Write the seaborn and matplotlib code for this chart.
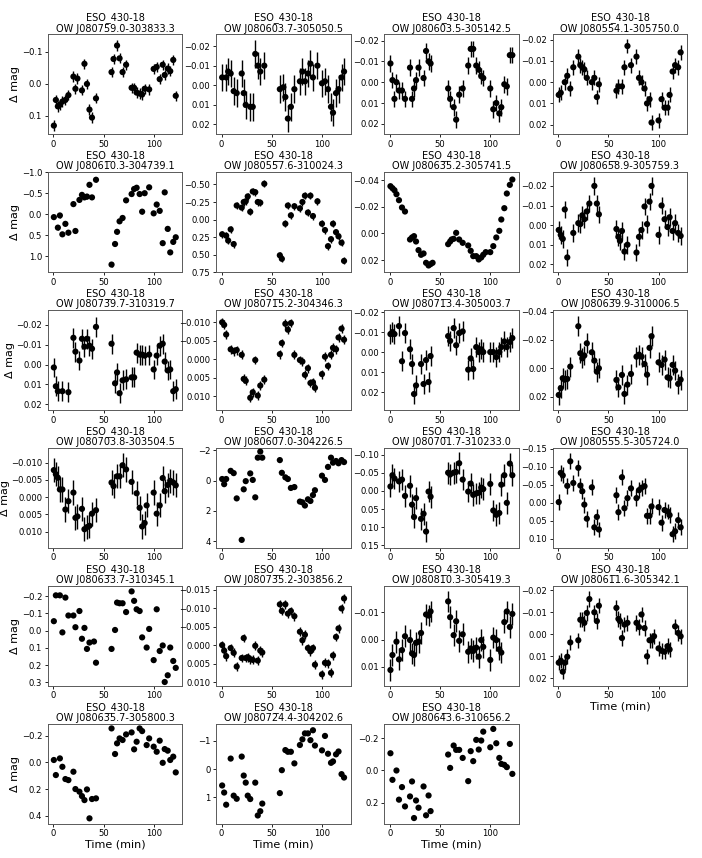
import numpy as np
import matplotlib
matplotlib.use('Agg')
import matplotlib.pyplot as plt
from matplotlib.ticker import MaxNLocator
import seaborn as sns

nan = np.nan
field = 'ESO_430-18'

# observation times (min), two blocks
time_min = [0.5, 2.5, 4.5, 6.5, 9, 12, 15, 20, 22, 24, 26, 28.5, 31, 33.5, 36, 38.5, 40.5, 42.5,
            58, 60, 61.5, 63.5, 66, 69, 72.5, 78, 80.5, 83, 86, 88.5, 91, 93, 95.5,
            100, 103, 106, 109, 111, 114, 116.5, 119.5, 122]

names = ['OW J080759.0-303833.3', 'OW J080603.7-305050.5', 'OW J080603.5-305142.5', 'OW J080554.1-305750.0',
         'OW J080610.3-304739.1', 'OW J080557.6-310024.3', 'OW J080635.2-305741.5', 'OW J080658.9-305759.3',
         'OW J080739.7-310319.7', 'OW J080715.2-304346.3', 'OW J080713.4-305003.7', 'OW J080639.9-310006.5',
         'OW J080703.8-303504.5', 'OW J080607.0-304226.5', 'OW J080701.7-310233.0', 'OW J080555.5-305724.0',
         'OW J080633.7-310345.1', 'OW J080735.2-303856.2', 'OW J080810.3-305419.3', 'OW J080611.6-305342.1',
         'OW J080635.7-305800.3', 'OW J080724.4-304202.6', 'OW J080643.6-310656.2']

j080759 = [0.13, 0.05, 0.07, 0.065, 0.055, 0.05, 0.035, -0.023, 0.015, -0.017, nan, 0.02, -0.063, 0.0, 0.08, 0.105, nan, 0.045,
           -0.037, -0.078, nan, -0.12, -0.08, -0.037, -0.06, 0.012, 0.012, 0.027, 0.03, 0.033, 0.015, nan, 0.017,
           -0.047, -0.053, -0.015, -0.06, -0.028, -0.048, -0.04, -0.075, 0.037]
j080603a = [-0.004, nan, -0.004, -0.007, -0.006, 0.003, 0.004, -0.006, 0.004, 0.010, nan, 0.011, 0.011, -0.016, -0.010, -0.007, nan, -0.010,
            0.002, nan, 0.001, 0.006, 0.017, 0.011, 0.002, -0.002, -0.007, -0.002, -0.006, -0.011, -0.004, nan, -0.010,
            -0.001, -0.002, 0.002, 0.011, 0.014, 0.004, 0.002, -0.004, -0.007]
j080603b = [-0.009, -0.001, 0.008, 0.0, 0.004, 0.004, 0.008, -0.007, 0.008, 0.003, -0.001, -0.007, nan, -0.002, -0.015, -0.010, -0.009, nan,
            0.003, 0.008, nan, 0.012, 0.018, 0.006, 0.003, -0.008, -0.016, -0.016, -0.008, -0.006, -0.003, -0.002, nan,
            0.003, 0.013, 0.010, 0.015, 0.012, 0.001, 0.002, -0.013, -0.013]
j080554 = [0.006, 0.005, nan, 0.0, -0.003, 0.003, -0.007, -0.012, -0.008, -0.007, -0.006, -0.002, nan, 0.0, -0.002, 0.007, 0.001, nan,
           0.004, 0.002, nan, 0.002, -0.007, -0.017, -0.008, -0.012, -0.002, 0.0, 0.003, 0.010, 0.008, 0.019, nan,
           0.018, 0.008, 0.012, 0.012, 0.006, -0.005, -0.008, -0.007, -0.014]
j080610 = [0.07, nan, 0.32, 0.03, 0.48, 0.23, 0.44, -0.24, 0.40, nan, -0.34, -0.46, -0.40, -0.42, -0.70, -0.40, nan, -0.82,
           1.2, nan, 0.71, 0.42, 0.17, 0.09, -0.33, -0.48, -0.60, -0.63, -0.48, -0.06, -0.50, nan, -0.64,
           -0.02, -0.23, -0.08, 0.69, -0.52, 0.35, 0.91, 0.66, 0.55]
j080557 = [0.21, nan, 0.23, 0.30, 0.14, 0.35, -0.20, -0.17, -0.25, -0.26, -0.33, -0.11, -0.40, -0.39, -0.25, -0.24, nan, -0.51,
           0.51, 0.56, nan, 0.06, -0.20, -0.06, -0.19, -0.16, -0.25, -0.34, -0.10, -0.34, -0.05, nan, -0.26,
           0.06, 0.15, 0.38, 0.28, 0.06, 0.18, 0.24, 0.33, 0.59]
j080635a = [-0.0355, -0.034, -0.0325, -0.0295, -0.025, -0.0195, -0.0165, 0.0045, 0.003, 0.002, 0.006, 0.0125, 0.016, 0.015, 0.022, 0.024, 0.023, 0.022,
            0.008, 0.006, 0.0045, 0.004, -0.0005, 0.0045, 0.007, 0.009, 0.013, 0.017, 0.017, 0.0195, 0.018, 0.016, 0.014,
            0.014, 0.0095, 0.003, -0.002, -0.0105, -0.019, -0.030, -0.0365, -0.0405]
j080658 = [0.0025, 0.005, 0.007, -0.008, 0.0165, nan, 0.004, -0.001, -0.0005, -0.005, -0.003, -0.007, -0.011, nan, -0.020, -0.011, -0.0055, nan,
           0.002, 0.006, 0.008, 0.003, 0.0135, 0.010, nan, 0.014, 0.006, 0.0025, -0.0095, -0.0005, -0.012, -0.020, nan,
           0.005, -0.010, -0.003, 0.001, -0.004, 0.003, -0.001, 0.004, 0.0055]
j080739 = [0.0015, 0.011, 0.0135, nan, 0.0135, nan, 0.014, -0.0135, -0.0065, nan, -0.002, -0.013, -0.009, -0.013, -0.0095, -0.008, nan, -0.019,
           -0.0105, nan, 0.0095, 0.004, 0.0145, 0.008, 0.0075, 0.0065, 0.0065, -0.006, -0.005, -0.005, -0.0045, nan, -0.005,
           0.0025, -0.0045, -0.0095, -0.0105, -0.0015, 0.003, 0.0025, 0.0135, 0.0125]
j080715 = [-0.010, -0.0093, -0.0067, nan, -0.0027, -0.0022, -0.0025, -0.0012, 0.0053, 0.0058, nan, 0.0104, 0.0089, 0.0002, 0.0098, 0.0071, nan, 0.0055,
           -0.0014, -0.0044, nan, -0.0096, -0.008, -0.0098, -0.0012, 0.0002, 0.0006, 0.0042, 0.0024, 0.0064, 0.0062, 0.0077, nan,
           0.004, -0.0007, 0.0018, -0.0012, -0.0031, -0.0027, -0.0059, -0.0083, -0.0053]
j080713 = [-0.009, -0.010, -0.009, nan, -0.013, 0.0046, -0.0095, -0.0014, 0.006, 0.021, 0.0167, nan, 0.006, 0.016, 0.004, 0.015, 0.002, nan,
           -0.008, -0.0056, nan, -0.012, -0.0034, -0.0095, -0.0103, 0.0088, 0.0032, 0.0085, -0.0025, 0.0, -0.0014, 0.0, nan,
           0.0, 0.0, 0.0025, 0.0, -0.0025, -0.0053, -0.0025, -0.005, -0.007]
j080639 = [0.0188, 0.014, 0.007, 0.008, 0.0075, -0.0012, nan, -0.0296, -0.0106, -0.007, -0.009, -0.0176, nan, -0.0113, -0.0054, 0.0024, 0.0, nan,
           0.0082, 0.0134, nan, 0.0047, 0.0181, 0.0115, 0.004, -0.0082, -0.0096, -0.0082, -0.003, 0.0045, -0.0144, -0.0226, nan,
           -0.0042, -0.0024, -0.0061, 0.0064, 0.007, -0.0024, 0.0016, 0.011, 0.008]
j080703 = [-0.0078, -0.0066, -0.0056, -0.0022, -0.0022, 0.0036, 0.0012, -0.0013, 0.006, 0.0056, nan, 0.0034, 0.0093, 0.0087, 0.0083, 0.0048, nan, 0.0038,
           -0.0042, -0.0032, nan, -0.006, -0.006, -0.0092, -0.008, -0.0044, nan, -0.0011, 0.0031, 0.0085, 0.0075, 0.0024, nan,
           -0.0013, 0.0048, 0.0024, -0.0055, -0.0017, -0.0035, -0.0047, -0.0042, -0.0034]
j080607 = [-0.1, 0.24, -0.1, nan, -0.64, -0.49, 1.18, 3.92, 0.58, 0.04, nan, -0.47, -0.04, 1.11, -1.51, -1.91, -1.51, nan,
           -1.35, -0.51, nan, -0.21, -0.1, 0.49, 0.43, 1.39, 1.44, 1.65, 1.24, 1.35, 0.96, 0.64, nan,
           -0.32, -0.04, -0.9, -1.51, -1.18, -1.29, -1.14, -1.35, -1.22]
j080701 = [-0.012, -0.043, -0.034, nan, -0.026, -0.031, 0.014, -0.014, 0.038, 0.072, 0.02, nan, 0.077, 0.063, 0.112, 0.002, 0.016, nan,
           -0.05, -0.045, nan, -0.05, -0.052, -0.076, -0.031, 0.002, -0.02, 0.011, 0.007, 0.005, -0.009, -0.005, nan,
           -0.019, 0.054, 0.066, 0.061, -0.017, -0.043, 0.033, -0.075, -0.043]
j080555 = [-0.002, -0.083, -0.076, nan, -0.047, -0.115, -0.055, -0.097, -0.048, -0.032, 0.005, 0.044, nan, -0.043, 0.068, 0.039, 0.074, nan,
           -0.021, 0.026, nan, -0.071, 0.015, -0.013, -0.040, -0.013, -0.035, -0.042, -0.046, 0.036, 0.036, 0.01, nan,
           0.012, 0.055, 0.02, 0.024, 0.034, 0.087, 0.079, 0.048, 0.068]
j080633 = [-0.055, -0.205, nan, -0.205, 0.01, -0.192, -0.088, -0.088, -0.02, nan, -0.114, 0.047, -0.016, 0.106, 0.069, nan, 0.063, 0.186,
           0.106, nan, -0.004, -0.163, -0.159, -0.159, -0.108, -0.228, -0.173, -0.124, -0.114, 0.039, nan, 0.098, -0.01,
           0.171, -0.124, 0.118, 0.086, 0.298, 0.259, 0.098, 0.176, 0.216]
j080735 = [0.0, 0.0015, 0.003, nan, 0.0008, 0.0021, 0.0058, 0.0035, -0.0019, 0.0035, 0.0033, 0.0038, 0.004, 0.0002, 0.0042, 0.0015, 0.002, nan,
           -0.011, -0.0092, nan, -0.011, -0.0085, -0.0092, -0.0078, -0.0036, -0.0013, -0.0028, 0.0008, 0.0017, 0.0008, 0.0053, nan,
           0.0079, 0.0048, 0.0049, 0.0075, 0.0028, -0.0022, -0.0045, -0.0099, -0.0126]
j080810 = [0.0112, 0.0057, nan, 0.0008, 0.0073, 0.0039, -0.0012, 0.0002, 0.0051, 0.0057, 0.0012, 0.0008, -0.0024, nan, -0.0092, -0.0088, -0.0103, nan,
           -0.014, -0.0082, nan, -0.0016, -0.0067, 0.0005, -0.0019, 0.0045, 0.0033, 0.0042, 0.003, 0.0063, 0.0002, 0.0027, nan,
           0.0075, -0.0007, 0.0002, 0.0036, 0.0048, -0.0064, -0.0103, -0.0046, -0.0094]
j080611 = [0.0129, 0.012, 0.017, 0.0129, 0.0102, 0.0037, nan, 0.0027, -0.0066, -0.0066, -0.0052, -0.0097, -0.016, nan, -0.01, -0.006, -0.013, nan,
           -0.012, -0.007, -0.006, 0.0017, -0.0044, -0.0052, nan, -0.0052, -0.0033, -0.009, -0.0028, 0.01, 0.0027, 0.0027, 0.0009,
           0.0064, 0.0075, 0.0079, 0.0054, 0.0069, nan, -0.0036, -0.0006, 0.0009]
j080635b = [-0.018, 0.095, nan, -0.03, 0.033, 0.125, 0.133, 0.07, 0.2, nan, 0.22, 0.253, 0.283, 0.203, 0.42, 0.275, nan, 0.27,
            -0.255, nan, -0.063, -0.143, -0.18, -0.168, -0.21, -0.225, -0.098, -0.155, -0.255, -0.235, nan, -0.13, -0.18,
            -0.118, -0.08, -0.163, 0.003, -0.1, -0.088, -0.018, -0.043, 0.075]
j080724 = [0.58, 0.83, 1.26, nan, -0.37, 0.94, 1.05, -0.44, 0.23, 0.48, 0.94, 1.06, nan, 0.48, 1.64, 1.49, 1.22, nan,
           0.85, 0.04, nan, -0.67, -0.61, -0.61, -0.2, -0.85, -1.05, -1.26, -1.26, -1.02, -1.37, -0.83, nan,
           -0.66, -1.17, -0.54, -0.22, -0.27, -0.52, -0.62, 0.18, 0.30]
j080643 = [-0.107, 0.058, nan, 0.0, 0.181, 0.103, 0.223, 0.161, 0.068, 0.295, 0.186, 0.231, nan, 0.099, 0.278, 0.155, 0.252, nan,
           -0.099, -0.016, nan, -0.155, -0.128, -0.128, -0.078, 0.066, -0.12, -0.058, -0.19, -0.13, -0.186, -0.241, nan,
           -0.144, -0.258, -0.169, -0.078, -0.041, -0.035, -0.021, -0.165, 0.021]

curves = [j080759, j080603a, j080603b, j080554, j080610, j080557, j080635a, j080658,
          j080739, j080715, j080713, j080639, j080703, j080607, j080701, j080555,
          j080633, j080735, j080810, j080611, j080635b, j080724, j080643]

# typical photometric error per star
errs = [0.016, 0.007, 0.004, 0.0035, 0.05, 0.05, 0.0003, 0.0045,
        0.005, 0.0012, 0.005, 0.007, 0.0035, 0.03, 0.03, 0.022,
        0.008, 0.0012, 0.004, 0.0035, 0.008, 0.04, 0.008]

# y range (brightest, faintest)
ylims = [(-0.155, 0.157), (-0.026, 0.025), (-0.023, 0.025), (-0.0225, 0.0245),
         (-1.0, 1.38), (-0.675, 0.75), (-0.046, 0.029), (-0.027, 0.024),
         (-0.0275, 0.023), (-0.0133, 0.0137), (-0.021, 0.029), (-0.041, 0.0294),
         (-0.0142, 0.0147), (-2.15, 4.45), (-0.118, 0.157), (-0.152, 0.125),
         (-0.26, 0.32), (-0.016, 0.011), (-0.0197, 0.017), (-0.022, 0.0234),
         (-0.29, 0.46), (-1.6, 1.93), (-0.29, 0.33)]

fig, axes = plt.subplots(6, 4, figsize=(7.02, 8.58), dpi=100)
plt.subplots_adjust(left=0.068, right=0.979, top=0.960, bottom=0.040, wspace=0.25, hspace=0.38)

for i, ax in enumerate(axes.flat):
    if i >= len(curves):
        ax.axis('off')
        continue
    mag = np.array(curves[i], dtype=float)
    ax.errorbar(time_min, mag, yerr=errs[i], fmt='none', ecolor='k', elinewidth=1.0)
    sns.scatterplot(x=time_min, y=mag, ax=ax, color='k', s=20, edgecolor='none', zorder=3)
    ax.set_xlim(-5.6, 128.6)
    lo, hi = ylims[i]
    ax.set_ylim(hi, lo)
    ax.yaxis.set_major_locator(MaxNLocator(nbins=6, steps=[1, 2, 2.5, 5, 10]))
    ax.set_title(field + '\n' + names[i], fontsize=7, pad=2, linespacing=1.05)
    ax.tick_params(labelsize=6.1, length=2.5, width=0.6, pad=1.5)
    for s in ax.spines.values():
        s.set_linewidth(0.7)
        s.set_color('0.35')
    ax.set_xlabel('')
    ax.set_ylabel('')
    if i % 4 == 0:
        ax.set_ylabel('Δ mag', fontsize=8, labelpad=1)
    if i >= 19:
        ax.set_xlabel('Time (min)', fontsize=8, labelpad=1)

plt.savefig('out.png', dpi=100)
